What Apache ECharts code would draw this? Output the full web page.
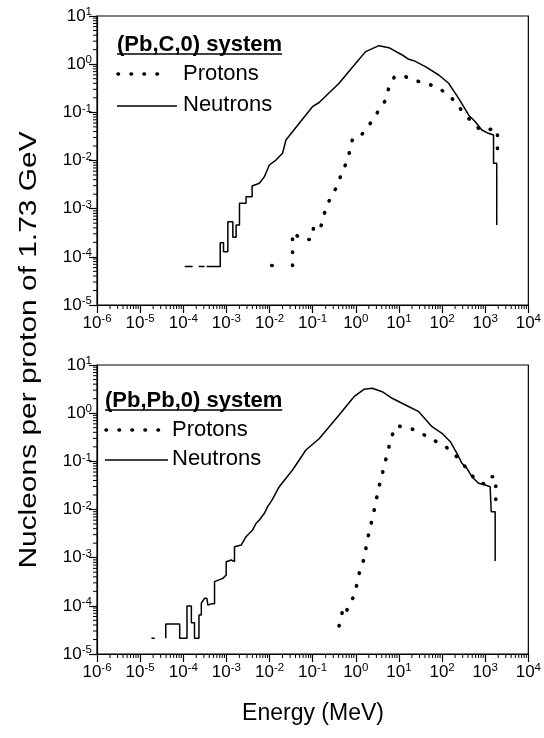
<!DOCTYPE html>
<html><head><meta charset="utf-8">
<script src="https://cdn.jsdelivr.net/npm/echarts@6/dist/echarts.min.js"></script>
<style>html,body{margin:0;padding:0;background:#fff}#c{width:544px;height:738px}</style>
</head><body><div id="c"></div>
<script>
const FONT = '"Liberation Sans", Arial, Helvetica, sans-serif';

// ---- data (energy in MeV, nucleons per proton) ----
const topNeutronE = [1.08e-4, 1.65e-4, null, 2.27e-4, 3.12e-4, null, 3.47e-4, 7.19e-4, 7.19e-4, 8.57e-4, 8.57e-4, 1.08e-3, 1.08e-3, 1.41e-3, 1.41e-3, 1.68e-3, 1.68e-3, 2.01e-3, 2.01e-3, 2.86e-3, 2.86e-3, 3.94e-3, 3.94e-3, 5.81e-3, 7.59e-3, 9.89e-3, 1.41e-2, 2.0e-2, 2.40e-2, 4.88e-2, 9.89e-2, 0.141, 0.409, 0.995, 1.69, 3.44, 5.85, 11.9, 16.9, 22.1, 41.1, 83.4, 142, 203, 242, 316, 411, 587, 834, 1190, 1560, 1560, 1850, 1850];
const topNeutronV = [6.3e-5, 6.3e-5, null, 6.3e-5, 6.3e-5, null, 6.3e-5, 6.3e-5, 1.97e-4, 1.97e-4, 1.28e-4, 1.28e-4, 5.37e-4, 5.37e-4, 2.55e-4, 2.55e-4, 4.58e-4, 4.58e-4, 1.29e-3, 1.29e-3, 1.77e-3, 1.77e-3, 2.96e-3, 3.36e-3, 4.61e-3, 8.07e-3, 1.02e-2, 1.41e-2, 2.67e-2, 5.92e-2, 0.131, 0.16, 0.401, 1.04, 1.82, 2.42, 2.20, 1.55, 1.26, 1.18, 0.887, 0.596, 0.401, 0.248, 0.195, 0.131, 0.0881, 0.064, 0.043, 0.0367, 0.0339, 0.00875, 0.00875, 4.58e-4];

const topProtonE = [0.01122, 0.0123, null, 0.0341, 0.0341, 0.0562, 0.0923, 0.107, 0.151, 0.1845, 0.2128, 0.2864, 0.3882, 0.4721, 0.6368, 0.8299, 1.186, 1.694, 2.495, 3.436, 4.909, 5.848, 7.907, 12.97, 24.15, 50.93, 91.41, 155.6, 232.8, 315.5, 490.9, 767.4, 1377, 1923, 1923];
const topProtonV = [6.61e-5, 6.61e-5, null, 6.61e-5, 3.24e-4, 2.29e-4, 2.29e-4, 4.37e-4, 3.89e-4, 7.64e-4, 1.19e-3, 1.92e-3, 3.25e-3, 5.69e-3, 9.77e-3, 0.0267, 0.0289, 0.0445, 0.0693, 0.112, 0.180, 0.331, 0.550, 0.568, 0.454, 0.382, 0.301, 0.211, 0.142, 0.0955, 0.064, 0.043, 0.0445, 0.0445, 0.0099];

const botNeutronE = [1.83e-5, 2.19e-5, null, 3.93e-5, 3.93e-5, 8.26e-5, 8.26e-5, 1.22e-4, 1.22e-4, 1.54e-4, 1.54e-4, 1.82e-4, 1.82e-4, 2.31e-4, 2.31e-4, 2.62e-4, 2.62e-4, 3.12e-4, 3.52e-4, 3.72e-4, 4.46e-4, 5.31e-4, 5.31e-4, 8.26e-4, 9.89e-4, 9.89e-4, 1.29e-3, 1.54e-3, 1.54e-3, 2.20e-3, 2.86e-3, 3.41e-3, 4.07e-3, 4.88e-3, 5.81e-3, 7.59e-3, 9.04e-3, 1.14e-2, 1.68e-2, 3.41e-2, 6.97e-2, 0.141, 0.409, 0.908, 1.545, 2.404, 4.093, 6.966, 14.19, 28.84, 58.48, 99.54, 155.6, 220.8, 288.4, 375.8, 490.9, 699.8, 1000, 1303, 1377, 1377, 1702, 1702];
const botNeutronV = [2.12e-5, 2.12e-5, null, 2.12e-5, 4.20e-5, 4.20e-5, 2.12e-5, 2.12e-5, 9.93e-5, 9.93e-5, 4.47e-5, 4.47e-5, 2.12e-5, 2.12e-5, 6.46e-5, 6.46e-5, 1.13e-4, 1.43e-4, 1.43e-4, 1.04e-4, 1.10e-4, 1.10e-4, 3.18e-4, 3.72e-4, 4.37e-4, 8.26e-4, 8.95e-4, 8.26e-4, 1.69e-3, 1.83e-3, 2.73e-3, 3.21e-3, 3.76e-3, 5.18e-3, 6.05e-3, 8.34e-3, 1.15e-2, 1.57e-2, 2.97e-2, 6.61e-2, 0.172, 0.295, 0.916, 2.198, 3.133, 3.281, 2.793, 2.037, 1.479, 1.074, 0.524, 0.382, 0.256, 0.147, 0.0910, 0.0718, 0.048, 0.035, 0.0323, 0.0297, 0.0297, 0.00902, 0.00902, 8.53e-4];

const botProtonE = [0.409, 0.488, 0.564, 0.661, 0.908, 1.084, 1.250, 1.603, 1.786, 2.094, 2.495, 2.884, 3.311, 3.963, 4.721, 5.636, 6.607, 8.810, 18.54, 33.27, 58.48, 105.0, 175.8, 254.7, 345.1, 475.3, 699.8, 1000, 1349, 1758, 1758];
const botProtonV = [3.82e-5, 7.57e-5, 6.15e-5, 9.59e-5, 1.60e-4, 3.03e-4, 5.55e-4, 1.02e-3, 1.99e-3, 3.76e-3, 7.33e-3, 1.35e-2, 2.54e-2, 4.80e-2, 9.10e-2, 0.172, 0.316, 0.550, 0.485, 0.382, 0.287, 0.218, 0.158, 0.103, 0.0774, 0.052, 0.0378, 0.0333, 0.048, 0.048, 0.0135];

const panelTitles = ['(Pb,C,0) system', '(Pb,Pb,0) system'];
const seriesNames = ['Protons', 'Neutrons'];
const xTitle = 'Energy (MeV)';
const yTitle = 'Nucleons per proton of 1.73 GeV';
const xRange = [1e-6, 1e4];
const yRange = [1e-5, 10];

// ---- helpers ----
function pairs(E, V) {
  return E.map((e, i) => (e == null || V[i] == null) ? ['-', '-'] : [e, V[i]]);
}
function powLabel(v) {
  const n = Math.round(Math.log10(v));
  return '{b|10}{s|' + n + '}';
}
const labelRich = {
  b: { fontFamily: FONT, fontSize: 17, color: '#000', lineHeight: 20 },
  s: { fontFamily: FONT, fontSize: 11.5, color: '#000', lineHeight: 13, verticalAlign: 'top' }
};

const GRID_L = 97, GRID_W = 433, GRID_H = 289;
const gridTops = [16, 365];

const chart = echarts.init(document.getElementById('c'), null, { renderer: 'canvas' });

const xAxes = [], yAxes = [], grids = [], series = [];
[0, 1].forEach(i => {
  grids.push({ left: GRID_L, top: gridTops[i], width: GRID_W, height: GRID_H, show: true,
    borderColor: '#000', borderWidth: 1.2, backgroundColor: 'transparent' });
  xAxes.push({ type: 'log', logBase: 10, gridIndex: i, min: xRange[0], max: xRange[1], interval: 1,
    axisLine: { show: true, lineStyle: { color: '#000', width: 1.2 } },
    axisTick: { show: true, inside: false, length: 8, lineStyle: { color: '#000', width: 1.2 } },
    splitLine: { show: false }, minorTick: { show: false },
    axisLabel: { margin: 8, formatter: powLabel, rich: labelRich, color: '#000' } });
  yAxes.push({ type: 'log', logBase: 10, gridIndex: i, min: yRange[0], max: yRange[1], interval: 1,
    axisLine: { show: true, lineStyle: { color: '#000', width: 1.2 } },
    axisTick: { show: true, inside: false, length: 8, lineStyle: { color: '#000', width: 1.2 } },
    splitLine: { show: false },
    axisLabel: { margin: 5, formatter: powLabel, rich: labelRich, color: '#000' } });
  // log-spaced minor ticks drawn via the axes' own coordinate system
  series.push({
    type: 'custom', xAxisIndex: i, yAxisIndex: i, silent: true, clip: false, z: 1,
    data: [[1, 1]],
    renderItem: function (params, api) {
      const ch = [];
      for (let d = -6; d < 4; d++) {
        for (let m = 2; m <= 9; m++) {
          const p = api.coord([m * Math.pow(10, d), yRange[0]]);
          ch.push({ type: 'line', shape: { x1: p[0], y1: p[1], x2: p[0], y2: p[1] + 4 },
            style: { stroke: '#000', lineWidth: 1 } });
        }
      }
      for (let d = -5; d < 1; d++) {
        for (let m = 2; m <= 9; m++) {
          const p = api.coord([xRange[0], m * Math.pow(10, d)]);
          ch.push({ type: 'line', shape: { x1: p[0] - 4, y1: p[1], x2: p[0], y2: p[1] },
            style: { stroke: '#000', lineWidth: 1 } });
        }
      }
      return { type: 'group', children: ch };
    }
  });
});

const dotStyle = { color: '#000', width: 3.6, type: [0.5, 12.5], cap: 'round' };
const solidStyle = { color: '#000', width: 1.5 };
series.push(
  { name: 'Protons', type: 'line', xAxisIndex: 0, yAxisIndex: 0, data: pairs(topProtonE, topProtonV),
    showSymbol: false, connectNulls: false, lineStyle: dotStyle, silent: true, z: 3 },
  { name: 'Neutrons', type: 'line', xAxisIndex: 0, yAxisIndex: 0, data: pairs(topNeutronE, topNeutronV),
    showSymbol: false, connectNulls: false, lineStyle: solidStyle, silent: true, z: 2 },
  { name: 'Protons', type: 'line', xAxisIndex: 1, yAxisIndex: 1, data: pairs(botProtonE, botProtonV),
    showSymbol: false, connectNulls: false, lineStyle: dotStyle, silent: true, z: 3 },
  { name: 'Neutrons', type: 'line', xAxisIndex: 1, yAxisIndex: 1, data: pairs(botNeutronE, botNeutronV),
    showSymbol: false, connectNulls: false, lineStyle: solidStyle, silent: true, z: 2 }
);

// ---- legend / titles as graphics ----
const mctx = document.createElement('canvas').getContext('2d');
function textW(str, font) { mctx.font = font; return mctx.measureText(str).width; }

const LEG_FS = 22;
const legendPos = [
  { x: 117, title: 45, prot: 74, neut: 105, lineEnd: 177, dotEnd: 168, textX: 183 },
  { x: 105, title: 401, prot: 430, neut: 459, lineEnd: 168, dotEnd: 160, textX: 172 }
];
const graphics = [];
legendPos.forEach((L, i) => {
  const tFont = 'bold ' + LEG_FS + 'px ' + FONT;
  graphics.push({ type: 'text', x: L.x, y: L.title, silent: true,
    style: { text: panelTitles[i], font: tFont, fill: '#000', align: 'left', verticalAlign: 'middle',
      textAlign: 'left', textVerticalAlign: 'middle' } });
  const w = textW(panelTitles[i], tFont);
  graphics.push({ type: 'line', silent: true, shape: { x1: L.x, y1: L.title + 9, x2: L.x + w, y2: L.title + 9 },
    style: { stroke: '#000', lineWidth: 1.4 } });
  graphics.push({ type: 'line', silent: true, shape: { x1: L.x + 1, y1: L.prot, x2: L.dotEnd, y2: L.prot },
    style: { stroke: '#000', lineWidth: 3.6, lineDash: [0.5, 12.5], lineCap: 'round' } });
  graphics.push({ type: 'text', x: L.textX, y: L.prot, silent: true,
    style: { text: seriesNames[0], font: LEG_FS + 'px ' + FONT, fill: '#000', align: 'left', verticalAlign: 'middle',
      textAlign: 'left', textVerticalAlign: 'middle' } });
  graphics.push({ type: 'line', silent: true, shape: { x1: L.x, y1: L.neut + 1, x2: L.lineEnd, y2: L.neut + 1 },
    style: { stroke: '#000', lineWidth: 1.4 } });
  graphics.push({ type: 'text', x: L.textX, y: L.neut, silent: true,
    style: { text: seriesNames[1], font: LEG_FS + 'px ' + FONT, fill: '#000', align: 'left', verticalAlign: 'middle',
      textAlign: 'left', textVerticalAlign: 'middle' } });
});
graphics.push({ type: 'text', x: 313, y: 714, silent: true,
  style: { text: xTitle, font: '23px ' + FONT, fill: '#000', align: 'center', verticalAlign: 'middle',
    textAlign: 'center', textVerticalAlign: 'middle' } });
graphics.push({ type: 'text', x: 30, y: 350, rotation: Math.PI / 2, scaleX: 1.3, silent: true,
  style: { text: yTitle, font: '23px ' + FONT, fill: '#000', align: 'center', verticalAlign: 'middle',
    textAlign: 'center', textVerticalAlign: 'middle' } });

chart.setOption({
  animation: false,
  backgroundColor: '#fff',
  grid: grids, xAxis: xAxes, yAxis: yAxes, series: series,
  graphic: { elements: graphics }
});
</script></body></html>
